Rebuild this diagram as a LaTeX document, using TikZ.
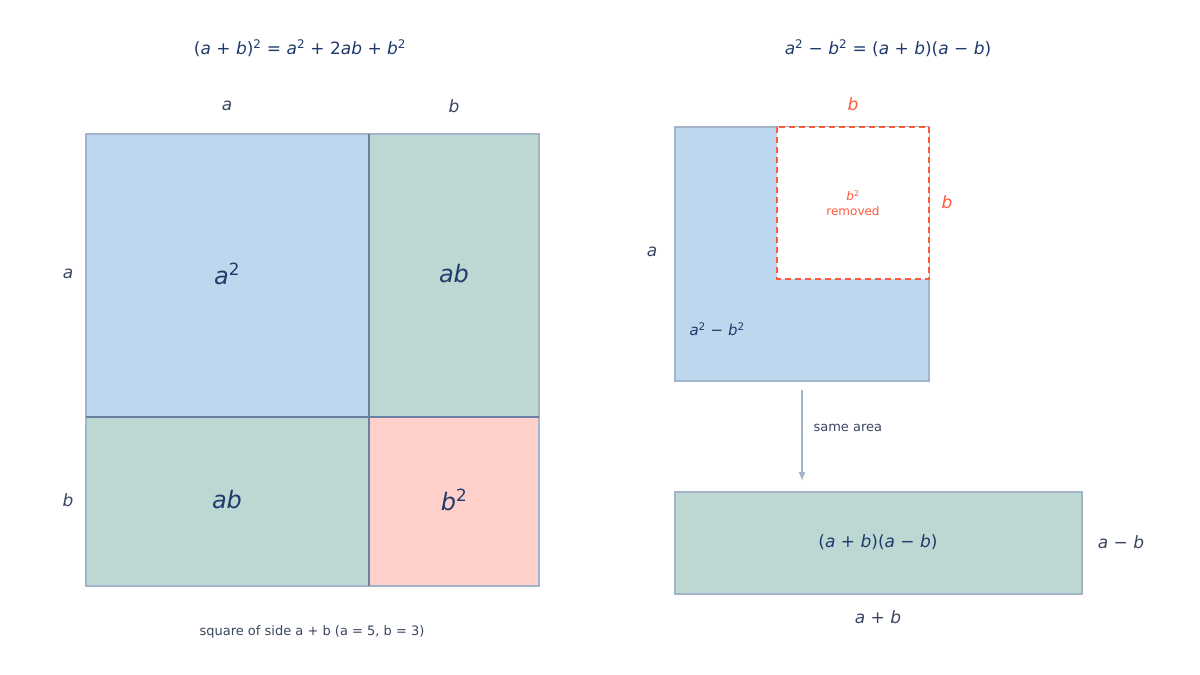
\documentclass[tikz,border=0pt]{standalone}
\usepackage{fontspec}
\setmainfont{DejaVu Sans}
\newcommand\mi[1]{\textit{#1}}
\newcommand\spw[1]{\textsuperscript{#1}}
\definecolor{navy}{HTML}{1F3A6B}
\definecolor{side}{HTML}{3A4660}
\definecolor{cblue}{HTML}{BDD7EE}
\definecolor{cgreen}{HTML}{BDD8D2}
\definecolor{cpink}{HTML}{FFD0CA}
\definecolor{bord}{HTML}{A3B3C8}
\definecolor{inner}{HTML}{6A80A3}
\definecolor{cred}{HTML}{FF5A3C}
\begin{document}
\begin{tikzpicture}[x=1pt,y=-1pt,
  box/.style={draw=bord,line width=1.6pt},
  lab/.style={text=side,font=\fontsize{17}{20}\selectfont},
  big/.style={text=navy,font=\fontsize{24}{28}\selectfont},
  ttl/.style={text=navy,font=\fontsize{17}{20}\selectfont}]
\useasboundingbox (0,0) rectangle (1200,675);
% left
\fill[cblue] (86,134) rectangle (369,417);
\fill[cgreen] (369,134) rectangle (539,417);
\fill[cgreen] (86,417) rectangle (369,586);
\fill[cpink] (369,417) rectangle (539,586);
\draw[box] (86,134) rectangle (539,586);
\draw[inner,line width=1.6pt] (369,134) -- (369,586) (86,417) -- (539,417);
\node[ttl] (t1) at (300,48) {(\mi{a} + \mi{b})\spw{2} = \mi{a}\spw{2} + 2\mi{ab} + \mi{b}\spw{2}};
\node[lab] (la) at (227,106) {\mi{a}};
\node[lab] (lb) at (454,106) {\mi{b}};
\node[lab] (sa) at (68,274) {\mi{a}};
\node[lab] (sb) at (68,500) {\mi{b}};
\node[big] (a2) at (227,274) {\mi{a}\spw{2}};
\node[big] (ab1) at (454,274) {\mi{ab}};
\node[big] (ab2) at (227,500) {\mi{ab}};
\node[big] (b2) at (454,500) {\mi{b}\spw{2}};
\node[text=side,font=\fontsize{13}{16}\selectfont] (cap) at (312,632) {square of side a + b (a = 5, b = 3)};
% right
\node[ttl] (t2) at (888,48) {\mi{a}\spw{2} − \mi{b}\spw{2} = (\mi{a} + \mi{b})(\mi{a} − \mi{b})};
\fill[cblue] (675,127) rectangle (929,381);
\draw[box] (675,127) rectangle (929,381);
\fill[white] (777,127) rectangle (929,279);
\draw[cred,line width=2pt,dash pattern=on 6pt off 4pt] (777,127) rectangle (929,279);
\node[text=cred,font=\fontsize{17}{20}\selectfont] (rb) at (853,104) {\mi{b}};
\node[text=cred,font=\fontsize{17}{20}\selectfont] (rb2) at (947,202) {\mi{b}};
\node[text=cred,font=\fontsize{12}{15}\selectfont,align=center] (rm) at (853,203) {\mi{b}\spw{2}\\removed};
\node[lab] (ra) at (652,252) {\mi{a}};
\node[text=navy,font=\fontsize{15}{18}\selectfont,anchor=west] (d) at (686,329) {\mi{a}\spw{2} − \mi{b}\spw{2}};
\coordinate (p1) at (802,390);
\coordinate (p2) at (802,481);
\draw[bord,line width=2pt,-latex] (p1) -- (p2);
\node[text=side,font=\fontsize{13}{16}\selectfont,anchor=west] (sm) at (810,428) {same area};
\fill[cgreen] (675,492) rectangle (1082,594);
\draw[box] (675,492) rectangle (1082,594);
\node[text=navy,font=\fontsize{17}{20}\selectfont] (pr) at (878,542) {(\mi{a} + \mi{b})(\mi{a} − \mi{b})};
\node[lab] (amb) at (1121,542) {\mi{a} − \mi{b}};
\node[lab] (apb) at (878,617) {\mi{a} + \mi{b}};
\end{tikzpicture}
\end{document}
